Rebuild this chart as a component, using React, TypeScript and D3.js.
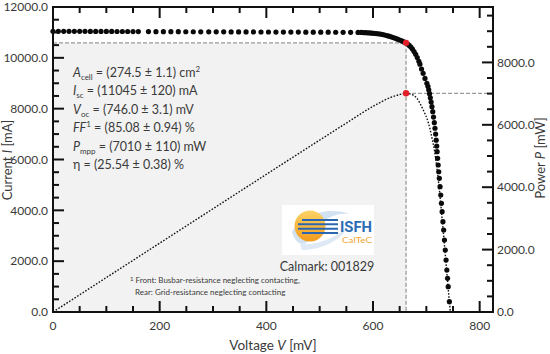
import React from "react";
import * as d3 from "d3";

// ---- data ----
const ivVoltage = [
  0, 10, 20, 30, 40, 50, 60, 70, 80, 90, 100, 110, 120, 130, 140, 150, 160,
  179, 193, 207, 221, 235, 249, 263, 277, 292, 306, 320, 334, 348, 362, 376, 390, 404, 418, 432, 446, 460, 474, 488, 502, 516, 530, 544, 558, 572,
  578, 582, 586, 590, 594, 598, 602, 606, 610, 614, 618, 622, 626, 630, 634, 638, 642, 646, 650, 654, 658, 662,
  665, 668, 671, 674, 677, 680, 683, 686, 688,
  691, 694, 697.5, 701,
  703, 704.5, 706, 707.5, 709, 710.5, 712, 713.5, 715, 716.2, 717.4, 718.5, 719.5,
  720.2, 721.2, 722.2, 723.3, 724.4, 725.7, 727, 728.3, 729.6, 731.1, 732.5, 734, 735.5, 737, 738.5, 739.8, 741, 743.2,
];
const ivCurrent = [
  11045, 11044, 11044, 11043, 11042, 11042, 11041, 11040, 11040, 11039, 11038, 11038, 11037, 11036, 11036, 11035, 11034,
  11032, 11031, 11030, 11029, 11028, 11027, 11026, 11025, 11024, 11023, 11022, 11021, 11020, 11019, 11018, 11017, 11016, 11015, 11014, 11013, 11012, 11011, 11010, 11009, 11008, 11006, 11004, 11002, 11000,
  10998, 10994, 10990, 10985, 10979, 10972, 10964, 10955, 10945, 10933, 10918, 10899, 10876, 10852, 10826, 10798, 10768, 10736, 10701, 10664, 10627, 10589,
  10545, 10490, 10425, 10345, 10250, 10140, 10010, 9865, 9750,
  9560, 9390, 9190, 9000,
  8880, 8740, 8590, 8430, 8260, 8080, 7880, 7670, 7450, 7230, 7000, 6760, 6530,
  6306, 6046, 5783, 5519, 5260, 4929, 4603, 4276, 3946, 3552, 3226, 2833, 2439, 2046, 1652, 1326, 995, 405,
];
const powerVoltage = [0, 100, 200, 300, 400, 500, 550, 600, 632, 650, 662, 672, 682, 694, 704, 710, 716, 720, 726, 732, 738, 742, 745];
const powerValue = [0, 1104, 2207, 3310, 4412, 5510, 6055, 6590, 6870, 6970, 7010, 6975, 6856, 6480, 6056, 5626, 5094, 4600, 3650, 2534, 1350, 560, 0];

const mppVoltage = 662;
const mppCurrent = 10589;
const mppPower = 7010;

const xDomain = [0, 825];
const currentDomain = [0, 12000];
const powerDomain = [0, 9776];
const xMajorTicks = [0, 200, 400, 600, 800];
const xTickLabels = ["0", "200", "400", "600", "800"];
const currentTicks = [0, 2000, 4000, 6000, 8000, 10000, 12000];
const currentTickLabels = ["0.0", "2000.0", "4000.0", "6000.0", "8000.0", "10000.0", "12000.0"];
const powerTicks = [0, 2000, 4000, 6000, 8000];
const powerTickLabels = ["0.0", "2000.0", "4000.0", "6000.0", "8000.0"];

const paramLines = [
  { main: "A", sub: "cell", sup: "", rest: " = (274.5 ± 1.1) cm", tail: "2" },
  { main: "I", sub: "sc", sup: "", rest: " = (11045 ± 120) mA", tail: "" },
  { main: "V", sub: "oc", sup: "", rest: " = (746.0 ± 3.1) mV", tail: "" },
  { main: "FF", sub: "", sup: "1", rest: " = (85.08 ± 0.94) %", tail: "" },
  { main: "P", sub: "mpp", sup: "", rest: " = (7010 ± 110) mW", tail: "" },
  { main: "", sub: "", sup: "", rest: "η = (25.54 ± 0.38) %", tail: "" },
];

const FONT = "Lato, 'Open Sans', sans-serif";
const TXT = "#3a3a3a";

export default function App() {
  const W = 550, H = 354;
  const L = 53, R = 493, T = 7, B = 312;
  const x = d3.scaleLinear().domain(xDomain).range([L, R]);
  const yI = d3.scaleLinear().domain(currentDomain).range([B, T]);
  const yP = d3.scaleLinear().domain(powerDomain).range([B, T]);

  const powerLine = d3
    .line<number>()
    .x((_, i) => x(powerVoltage[i]))
    .y((d) => yP(d))
    .curve(d3.curveMonotoneX);

  const xMinor = d3.range(0, 801, 50);
  const iMinor = d3.range(0, 12001, 500);
  const pMinor = d3.range(0, 9776, 500);
  const MAJ = 11, MIN = 6;

  const mx = x(mppVoltage);
  const myI = yI(mppCurrent);
  const myP = yP(mppPower);

  return (
    <svg width={W} height={H} style={{ position: "absolute", left: 0, top: 0, background: "#fff" }} fontFamily={FONT}>
      <defs>
        <linearGradient id="sun" x1="0" y1="0" x2="0" y2="1">
          <stop offset="0" stopColor="#fbd467" />
          <stop offset="1" stopColor="#f29b1c" />
        </linearGradient>
      </defs>
      {/* gray MPP rectangle */}
      <rect x={L} y={myI} width={mx - L} height={B - myI} fill="#f2f2f2" />

      {/* dashed guides */}
      <g stroke="#9a9a9a" strokeWidth={1.3} strokeDasharray="4,2" fill="none">
        <line x1={L} x2={mx} y1={myI} y2={myI} />
        <line x1={mx} x2={mx} y1={myI} y2={B} />
        <line x1={mx} x2={R} y1={myP} y2={myP} />
      </g>

      {/* logo */}
      <g>
        <rect x={282} y={205} width={92} height={50} fill="#fff" />
        <path d="M292,232 C300,214 330,206 350,214 C336,212 318,220 312,236 C306,248 296,246 292,232 Z" fill="#c8dbef" opacity={0.8} />
        <path d="M300,244 C316,246 336,238 348,226 C342,240 322,250 302,250 Z" fill="#d6e4f3" opacity={0.8} />
        <circle cx={310} cy={226} r={15.5} fill="url(#sun)" />
        <g stroke="#2b67b0" strokeWidth={2}>
          {[220, 224.3, 228.7, 233].map((yy, i) => (
            <line key={i} x1={298 + (i === 0 || i === 3 ? 4 : 0)} x2={338} y1={yy} y2={yy} />
          ))}
        </g>
        <text x={340} y={232} fontSize={15} fontWeight={700} fill="#2b6cb5" textLength={32} lengthAdjust="spacingAndGlyphs" fontFamily="Roboto, sans-serif">ISFH</text>
        <text x={342} y={243} fontSize={7.5} fill="#f2a533" textLength={30} lengthAdjust="spacingAndGlyphs">CalTeC</text>
      </g>
      <text x={327} y={271} fontSize={12.5} fill={TXT} textAnchor="middle">Calmark: 001829</text>

      {/* footnote */}
      <text x={130} y={283} fontSize={8} fill={TXT}>
        <tspan fontSize={6} dy={-2.5}>1</tspan>
        <tspan dy={2.5}> Front: Busbar-resistance neglecting contacting,</tspan>
      </text>
      <text x={135} y={295} fontSize={8} fill={TXT}>Rear: Grid-resistance neglecting contacting</text>

      {/* parameter block */}
      {paramLines.map((p, i) => (
        <text key={i} x={73} y={77 + i * 18.4} fontSize={12.5} fill={TXT}>
          {p.main && <tspan fontStyle="italic">{p.main}</tspan>}
          {p.sub && <tspan fontSize={8} dy={3}>{p.sub}</tspan>}
          {p.sup && <tspan fontSize={8} dy={-5}>{p.sup}</tspan>}
          <tspan dy={p.sub ? -3 : p.sup ? 5 : 0}>{p.rest}</tspan>
          {p.tail && <tspan fontSize={8} dy={-5}>{p.tail}</tspan>}
        </text>
      ))}

      {/* power curve */}
      <path d={powerLine(powerValue) || ""} fill="none" stroke="#111" strokeWidth={1.4} strokeDasharray="1.6,1.6" />

      {/* IV dots */}
      <g fill="#0a0a0a">
        {ivVoltage.map((v, i) => (
          <circle key={i} cx={x(v)} cy={yI(ivCurrent[i])} r={2.6} />
        ))}
      </g>

      {/* MPP points */}
      <circle cx={mx} cy={myI} r={3.2} fill="#e3202a" />
      <circle cx={mx} cy={myP} r={3.2} fill="#e3202a" />

      {/* frame */}
      <rect x={L} y={T} width={R - L} height={B - T} fill="none" stroke="#111" strokeWidth={2} />

      {/* ticks */}
      <g stroke="#111" strokeWidth={2}>
        {xMinor.map((v) => {
          const len = xMajorTicks.includes(v) ? MAJ : MIN;
          return (
            <g key={v}>
              <line x1={x(v)} x2={x(v)} y1={B} y2={B - len} />
              <line x1={x(v)} x2={x(v)} y1={T} y2={T + len} />
            </g>
          );
        })}
        {iMinor.map((v) => {
          const len = currentTicks.includes(v) ? MAJ : MIN;
          return <line key={v} x1={L} x2={L + len} y1={yI(v)} y2={yI(v)} />;
        })}
        {pMinor.map((v) => {
          const len = powerTicks.includes(v) ? MAJ : MIN;
          return <line key={v} x1={R} x2={R - len} y1={yP(v)} y2={yP(v)} />;
        })}
      </g>

      {/* tick labels */}
      <g fontSize={12} fill={TXT}>
        {xMajorTicks.map((v, i) => (
          <text key={v} x={x(v)} y={330} textAnchor="middle">{xTickLabels[i]}</text>
        ))}
        {currentTicks.map((v, i) => (
          <text key={v} x={48} y={yI(v)} dy="0.35em" textAnchor="end">{currentTickLabels[i]}</text>
        ))}
        {powerTicks.map((v, i) => (
          <text key={v} x={497} y={yP(v)} dy="0.35em" textAnchor="start">{powerTickLabels[i]}</text>
        ))}
      </g>

      {/* axis titles */}
      <text x={273} y={350} fontSize={13.5} fill={TXT} textAnchor="middle">
        Voltage <tspan fontStyle="italic">V</tspan> [mV]
      </text>
      <text transform="translate(12,160) rotate(-90)" fontSize={13} fill={TXT} textAnchor="middle">
        Current <tspan fontStyle="italic">I</tspan> [mA]
      </text>
      <text transform="translate(545,158) rotate(-90)" fontSize={13} fill={TXT} textAnchor="middle">
        Power <tspan fontStyle="italic">P</tspan> [mW]
      </text>
    </svg>
  );
}
